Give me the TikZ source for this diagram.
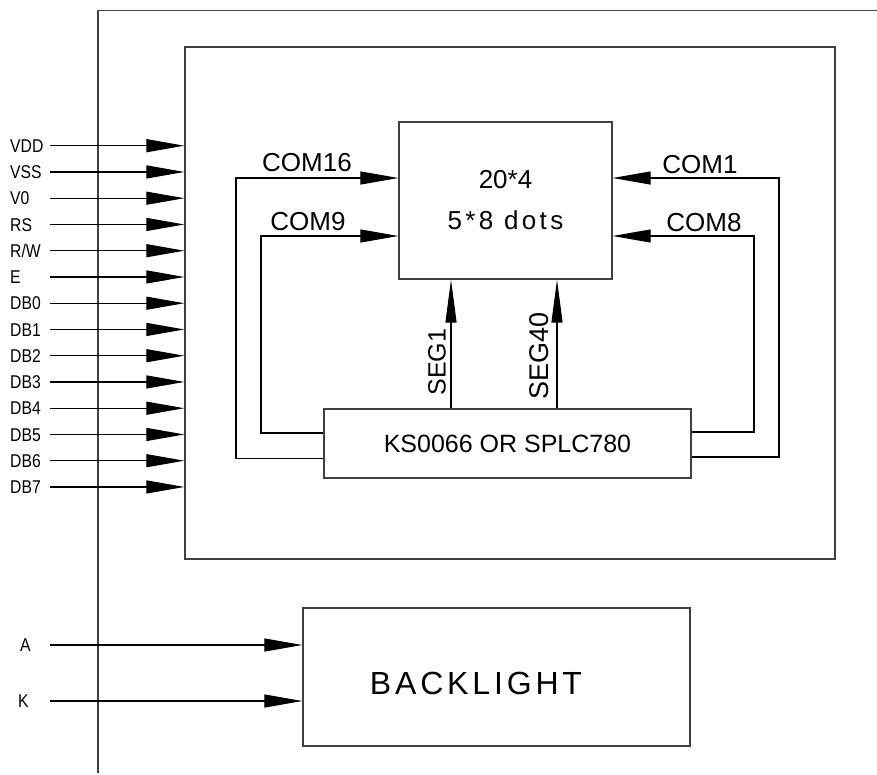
\documentclass[tikz,border=0pt]{standalone}
\usepackage{fontspec}
\setmainfont{Liberation Sans}
\newfontfamily\pinfont{Liberation Sans}[FakeStretch=0.85]
\usetikzlibrary{arrows.meta}

\begin{document}
\begin{tikzpicture}[x=1pt,y=-1pt,
    box/.style={draw=black!75,line width=1.3pt,inner sep=0pt},
    wire/.style={draw,line width=1.1pt},
    arr/.style={wire,-{Triangle[length=38pt,width=13pt]}},
    segarr/.style={wire,-{Triangle[length=43pt,width=11pt]}},
    pin/.style={anchor=base west,inner sep=0pt,font=\pinfont\fontsize{18.5}{18.5}\selectfont},
    sig/.style={inner sep=0pt,font=\fontsize{25}{25}\selectfont}]

      \useasboundingbox (0,0) rectangle (877,774);

      % frame
      \draw[box] (98,773) -- (98,10.5) -- (877,10.5);

      % boxes
      \node[box,minimum width=650pt,minimum height=512pt] (module) at (510,303) {};
      \node[box,minimum width=213pt,minimum height=157pt,align=center,
            font=\fontsize{26}{41}\selectfont] (lcd) at (505.5,200.5) {20*4\\\addfontfeature{LetterSpace=13}5*8 dots};
      \node[box,minimum width=367pt,minimum height=69pt,
            font=\fontsize{25}{25}\selectfont] (drv) at (507.5,443.5) {KS0066 OR SPLC780};
      \node[box,minimum width=387pt,minimum height=138pt] (bl) at (496.5,677) {};
      \node[font=\fontsize{32}{32}\selectfont\addfontfeature{LetterSpace=12}] (bltext) at (476,683.5) {BACKLIGHT};

      % pins
      \foreach \lbl [count=\i from 0] in {VDD,VSS,V0,RS,R/W,E,DB0,DB1,DB2,DB3,DB4,DB5,DB6,DB7} {
        \node[pin] (pin\i) at (10,152.3+26.25*\i) {\lbl};
        \coordinate (start\i) at (50,145.7+26.25*\i);
        \path[arr] (start\i) -- (start\i -| module.west);
      }

      \node[pin] (pinA) at (20,651.6) {A};
      \node[pin] (pinK) at (18,707.6) {K};
      \coordinate (startA) at (50,645);
      \coordinate (startK) at (50,701);
      \path[arr] (startA) -- (startA -| bl.west);
      \path[arr] (startK) -- (startK -| bl.west);

      % commons
      \path[arr] (drv.west |- 0,458.5) -| (236,178) -- (lcd.west |- 0,178);
      \path[arr] (drv.west |- 0,433) -| (261,236) -- (lcd.west |- 0,236);
      \path[arr] (drv.east |- 0,457) -| (779,178) -- (lcd.east |- 0,178);
      \path[arr] (drv.east |- 0,432) -| (754,236) -- (lcd.east |- 0,236);

      \node[sig,font=\fontsize{26}{26}\selectfont] (com16) at (307,163) {COM16};
      \node[sig,font=\fontsize{26}{26}\selectfont] (com9)  at (308,222) {COM9};
      \node[sig,font=\fontsize{26}{26}\selectfont] (com1)  at (700,165) {COM1};
      \node[sig,font=\fontsize{26}{26}\selectfont] (com8)  at (704,223) {COM8};

      % segments
      \path[segarr] (drv.north -| 451,0) -- (lcd.south -| 451,0);
      \path[segarr] (drv.north -| 557,0) -- (lcd.south -| 557,0);
      \node[sig,rotate=90] (seg1)  at (437,362) {SEG1};
      \node[sig,rotate=90,font=\fontsize{27}{27}\selectfont] (seg40) at (539,356) {SEG40};

    \end{tikzpicture}
\end{document}
